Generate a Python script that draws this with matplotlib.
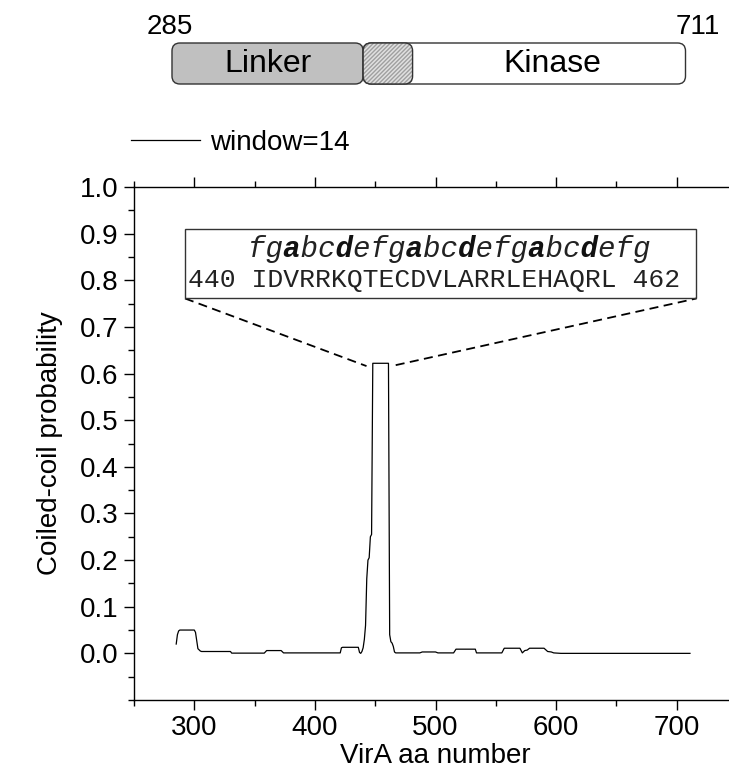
import matplotlib
matplotlib.use("Agg")
import matplotlib.pyplot as plt
from matplotlib.patches import FancyBboxPatch, Rectangle
from matplotlib.lines import Line2D
from matplotlib.ticker import MultipleLocator

plt.rcParams['font.family'] = ['Liberation Sans', 'DejaVu Sans']

# ---- data ----
aa_pos = [285, 286, 287, 288, 300, 301, 303, 305, 306, 330, 331, 358, 360, 372, 374,
          421, 422, 423, 436, 437, 438, 439, 440, 441, 442, 443, 444, 445, 446, 447,
          448, 461, 462, 463, 464, 465, 466, 467, 487, 489, 500, 502, 515, 517, 533,
          534, 555, 557, 570, 572, 574, 576, 578, 590, 593, 596, 598, 604, 711]
cc_prob = [0.020, 0.040, 0.048, 0.050, 0.050, 0.045, 0.010, 0.005, 0.004, 0.004, 0.0005,
           0.0005, 0.006, 0.006, 0.001, 0.001, 0.012, 0.013, 0.013, 0.002, 0.000, 0.004,
           0.012, 0.030, 0.060, 0.160, 0.200, 0.205, 0.250, 0.255, 0.622, 0.622, 0.040,
           0.025, 0.022, 0.015, 0.003, 0.001, 0.001, 0.003, 0.003, 0.001, 0.001, 0.009,
           0.009, 0.001, 0.001, 0.011, 0.011, 0.001, 0.006, 0.007, 0.011, 0.011, 0.004,
           0.003, 0.001, 0.000, 0.000]
series_label = "window=14"

domain_names = ["Linker", "", "Kinase"]
domain_start = [281.5, 440, 440]
domain_end = [440, 481, 707.3]
seq_start_label = "285"
seq_end_label = "711"

heptad = "fgabcdefgabcdefgabcdefg"
heptad_core = "ad"
sequence_line = "440 IDVRRKQTECDVLARRLEHAQRL 462"

x_ticks = [300, 400, 500, 600, 700]
y_ticks = [0.0, 0.1, 0.2, 0.3, 0.4, 0.5, 0.6, 0.7, 0.8, 0.9, 1.0]

W, H = 729, 769
fig = plt.figure(figsize=(W / 100, H / 100), dpi=100)

# main axes (pixel geometry)
L, R, T, B = 134, 737, 187, 700
ax = fig.add_axes([L / W, 1 - B / H, (R - L) / W, (B - T) / H])
ax.plot(aa_pos, cc_prob, color='black', lw=0.9)
ax.set_xlim(250, 750)
ax.set_ylim(-0.1, 1.0)
ax.set_xticks(x_ticks)
ax.set_yticks(y_ticks)
ax.set_yticklabels([f"{v:.1f}" for v in y_ticks])
ax.xaxis.set_minor_locator(MultipleLocator(50))
ax.yaxis.set_minor_locator(MultipleLocator(0.05))
ax.tick_params(which='both', direction='out', top=True, right=False, labelsize=20, width=1.0)
ax.tick_params(which='major', length=7, pad=4)
ax.tick_params(which='minor', length=4)
ax.spines['right'].set_visible(False)
for s in ['left', 'bottom', 'top']:
    ax.spines[s].set_linewidth(1.0)
ax.set_xlabel("VirA aa number", fontsize=20, labelpad=1)
ax.set_ylabel("Coiled-coil probability", fontsize=20, labelpad=12)

# inset box with heptad annotation
bx0, bx1, by0, by1 = 292.3, 716.4, 0.761, 0.911
ax.add_patch(Rectangle((bx0, by0), bx1 - bx0, by1 - by0, fill=False, ec='#333333', lw=1.0,
                       clip_on=False, zorder=3))
mono = ['Liberation Mono', 'DejaVu Sans Mono']
reg = "".join(" " if c in heptad_core else c for c in heptad)
bold = "".join(c if c in heptad_core else " " for c in heptad)
ax.text(511.0, 0.868, reg, family=mono, style='italic', fontsize=21, ha='center', va='center',
        color='#222222')
ax.text(511.0, 0.868, bold, family=mono, style='italic', weight='bold', fontsize=21, ha='center',
        va='center', color='#111111')
ax.text(498.5, 0.801, sequence_line, family=mono, fontsize=19, ha='center', va='center',
        color='#222222')
ax.plot([bx0, 442.8], [by0, 0.616], ls=(0, (5, 3)), color='black', lw=1.3)
ax.plot([467.0, bx1], [0.618, by0], ls=(0, (5, 3)), color='black', lw=1.3, clip_on=False)

# legend
h = [Line2D([], [], color='black', lw=0.9)]
fig.legend(h, [series_label], loc='center left', bbox_to_anchor=(131 / W, 1 - 143 / H),
           frameon=False, fontsize=20, handlelength=2.5, handletextpad=0.35,
           borderpad=0, borderaxespad=0)

# domain bar axes (pixel y units)
bt, bb = 10, 95
bax = fig.add_axes([L / W, 1 - bb / H, (R - L) / W, (bb - bt) / H])
bax.set_xlim(250, 750)
bax.set_ylim(bb, bt)
bax.axis('off')
ytop, ybot = 43, 84
r = 6.6
asp = 8 / r
bax.add_patch(FancyBboxPatch((domain_start[0], ytop), domain_end[0] - domain_start[0], ybot - ytop,
                             boxstyle=f"round,pad=0,rounding_size={r}", mutation_aspect=asp,
                             fc='#c0c0c0', ec='#333333', lw=1.0, zorder=2))
bax.add_patch(FancyBboxPatch((domain_start[2], ytop), domain_end[2] - domain_start[2], ybot - ytop,
                             boxstyle=f"round,pad=0,rounding_size={r}", mutation_aspect=asp,
                             fc='white', ec='#333333', lw=1.0, zorder=2))
bax.add_patch(FancyBboxPatch((domain_start[1], ytop), domain_end[1] - domain_start[1], ybot - ytop,
                             boxstyle=f"round,pad=0,rounding_size={r}", mutation_aspect=asp,
                             fc='#e0e0e0', ec='#a0a0a0', lw=0, hatch='////////', zorder=3))
bax.add_patch(FancyBboxPatch((domain_start[1], ytop), domain_end[1] - domain_start[1], ybot - ytop,
                             boxstyle=f"round,pad=0,rounding_size={r}", mutation_aspect=asp,
                             fill=False, ec='#333333', lw=1.0, zorder=4))
bax.text((domain_start[0] + domain_end[0]) / 2, (ytop + ybot) / 2 + 1, domain_names[0],
         fontsize=23, ha='center', va='center')
bax.text((domain_end[1] + domain_end[2]) / 2 + 3, (ytop + ybot) / 2 + 1, domain_names[2],
         fontsize=23, ha='center', va='center')
bax.text(domain_start[0] - 2, 27, seq_start_label, fontsize=20, ha='center', va='center')
bax.text(domain_end[2] + 10, 27, seq_end_label, fontsize=20, ha='center', va='center')

fig.savefig("out.png", dpi=100)
